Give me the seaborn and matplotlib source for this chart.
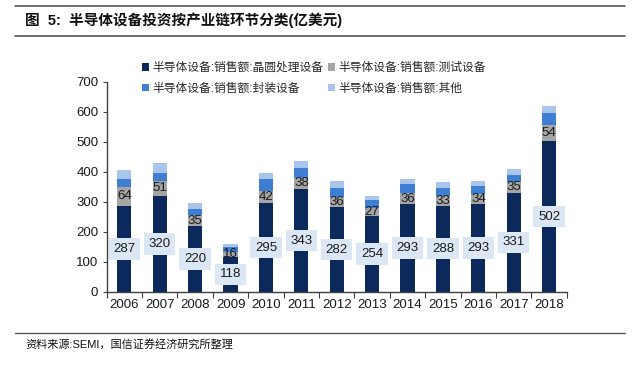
import matplotlib
matplotlib.use("Agg")
import matplotlib.pyplot as plt
from matplotlib.patches import Patch
from matplotlib.lines import Line2D
import seaborn as sns
import numpy as np
import pandas as pd

# === Data (亿美元) ===
years = ["2006", "2007", "2008", "2009", "2010", "2011", "2012",
         "2013", "2014", "2015", "2016", "2017", "2018"]
wafer = [287, 320, 220, 118, 295, 343, 282, 254, 293, 288, 293, 331, 502]
test = [64, 51, 35, 16, 42, 38, 36, 27, 36, 33, 34, 35, 54]
package = [26, 27, 21, 17, 39, 31, 30, 24, 30, 27, 25, 24, 42]
other = [28, 31, 20, 9, 19, 23, 22, 14, 17, 18, 19, 21, 23]

series_names = ["半导体设备:销售额:晶圆处理设备", "半导体设备:销售额:测试设备",
                "半导体设备:销售额:封装设备", "半导体设备:销售额:其他"]
colors = ["#0B2A5B", "#A5A5A5", "#3E7FD3", "#A9C5EC"]

sns.set_theme(style="white")
plt.rcParams["font.family"] = ["Liberation Sans", "Noto Sans CJK SC", "DejaVu Sans"]

df = pd.DataFrame({"year": years, "wafer": wafer, "test": test,
                   "package": package, "other": other})
# cumulative heights, drawn from top layer down
df["c1"] = df["wafer"]
df["c2"] = df["c1"] + df["test"]
df["c3"] = df["c2"] + df["package"]
df["c4"] = df["c3"] + df["other"]

fig = plt.figure(figsize=(6.4, 3.67), dpi=100)
ax = fig.add_axes([0.1667, 0.2044, 0.7190, 0.5722])

for col, color in zip(["c4", "c3", "c2", "c1"], colors[::-1]):
    sns.barplot(data=df, x="year", y=col, color=color, width=0.4,
                saturation=1, ax=ax, linewidth=0)

ax.set_ylim(0, 700)
ax.set_xlim(-0.5, len(years) - 0.5)
ax.set_yticks(range(0, 701, 100))
ax.set_xlabel("")
ax.set_ylabel("")

# value labels
for i, row in df.iterrows():
    ax.text(i, row["wafer"] / 2, f"{row['wafer']}", ha="center", va="center",
            fontsize=9.5, color="#1a1a1a",
            bbox=dict(boxstyle="square,pad=0.35", fc="#DCE7F5", ec="none"))
    ax.text(i, row["wafer"] + row["test"] / 2, f"{row['test']}", ha="center",
            va="center", fontsize=9.5, color="#1a1a1a")

# axis styling
for s in ["top", "right"]:
    ax.spines[s].set_visible(False)
for s in ["left", "bottom"]:
    ax.spines[s].set_color("#404040")
    ax.spines[s].set_linewidth(1.0)
ax.tick_params(axis="y", direction="out", length=3, width=0.8, color="#404040",
               labelsize=9.5, labelcolor="#1a1a1a", pad=3, left=True)
ax.tick_params(axis="x", which="major", length=0, labelsize=9.5,
               labelcolor="#1a1a1a", pad=5)
ax.set_xticks(np.arange(-0.5, len(years)), minor=True)
ax.tick_params(axis="x", which="minor", direction="out", length=4, width=0.8,
               color="#404040", bottom=True)

# legend: row 1 wafer/test, row 2 package/other (matplotlib fills by column)
handles = [Patch(facecolor=c, edgecolor="none") for c in colors]
order = [0, 2, 1, 3]
fig.legend([handles[k] for k in order], [series_names[k] for k in order],
           ncol=2, loc="upper left",
           bbox_to_anchor=(0.205, 0.86), frameon=False, fontsize=8.5,
           handlelength=0.6, handleheight=0.6, handletextpad=0.3,
           columnspacing=0.4, labelspacing=0.75)

# title, rules, footer
fig.add_artist(Line2D([15 / 640, 625 / 640], [1 - 6 / 367] * 2, color="#555555", lw=1.2))
fig.add_artist(Line2D([15 / 640, 625 / 640], [1 - 36 / 367] * 2, color="#555555", lw=1.2))
fig.add_artist(Line2D([15 / 640, 625 / 640], [1 - 333 / 367] * 2, color="#555555", lw=1.0))
fig.text(25 / 640, 1 - 20 / 367, "图  5:  半导体设备投资按产业链环节分类(亿美元)",
         fontsize=10.5, fontweight="bold", va="center", ha="left", color="#111111")
fig.text(25 / 640, 1 - 344 / 367, "资料来源:SEMI，国信证券经济研究所整理",
         fontsize=8, va="center", ha="left", color="#111111")

fig.savefig("out.png", dpi=100)
